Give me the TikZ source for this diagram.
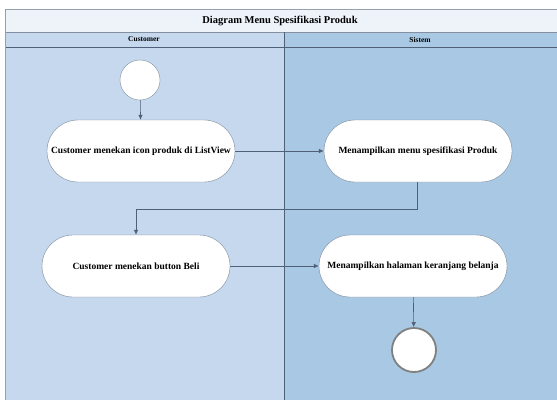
\documentclass[tikz,border=0pt]{standalone}
\usepackage{fontspec}
\setmainfont{Liberation Serif}
\usetikzlibrary{arrows.meta}
\definecolor{laneA}{HTML}{C5D8EE}
\definecolor{laneB}{HTML}{A8C8E3}
\definecolor{titlebg}{HTML}{EEF3FA}
\definecolor{edge}{HTML}{4F6179}
\tikzset{
  act/.style={draw=edge!75, fill=white, rounded corners=31pt, minimum width=188pt, minimum height=62pt, font=\bfseries\fontsize{9.5}{11}\selectfont, inner sep=1pt},
  flow/.style={draw=edge, line width=0.6pt, -{Latex[length=5pt,width=4.5pt]}},
  startnode/.style={circle, draw=edge!70, fill=white, minimum size=40pt, inner sep=0pt},
  endnode/.style={circle, draw=gray, line width=1.8pt, fill=white, minimum size=44pt, inner sep=0pt},
  hdr/.style={font=\bfseries\fontsize{7.5}{8}\selectfont}
}
\begin{document}
\begin{tikzpicture}[x=1pt,y=-1pt]
\useasboundingbox (0,0) rectangle (557,400);
\fill[white] (0,0) rectangle (557,400);
% lanes
\fill[laneA] (5,32) rectangle (284,400);
\fill[laneB] (284,32) rectangle (557,400);
\fill[titlebg] (5,9) rectangle (557,32);
\draw[edge!60, line width=0.6pt] (5,9) -- (557,9);
\draw[edge!70, line width=0.8pt] (5,32) -- (557,32);
\draw[edge, line width=0.8pt] (5,47) -- (557,47);
\draw[edge!60, line width=0.8pt] (5,9) -- (5,400);
\draw[edge, line width=0.8pt] (284,32) -- (284,400);
\node[font=\bfseries\fontsize{10.5}{12}\selectfont] (title) at (280,20.5) {Diagram Menu Spesifikasi Produk};
\node[hdr] (h1) at (144,39.5) {Customer};
\node[hdr] (h2) at (420,39.5) {Sistem};
% nodes
\node[startnode] (s) at (140,80) {};
\node[act] (a1) at (141,151) {Customer menekan icon produk di ListView};
\node[act] (a2) at (418,151) {Menampilkan menu spesifikasi Produk};
\node[act] (a3) at (136,266) {Customer menekan button  Beli};
\node[act] (a4) at (413,266) {Menampilkan halaman keranjang belanja};
\node[endnode] (e) at (414,350) {};
% flows
\draw[flow] (s) -- (a1);
\draw[flow] (a1) -- (a2);
\coordinate (c1) at (417,209);
\coordinate (c2) at (136,209);
\draw[flow] (a2.south -| c1) -- (c1) -- (c2) -- (a3);
\draw[flow] (a3) -- (a4);
\draw[flow] (a4) -- (e);
\end{tikzpicture}
\end{document}
